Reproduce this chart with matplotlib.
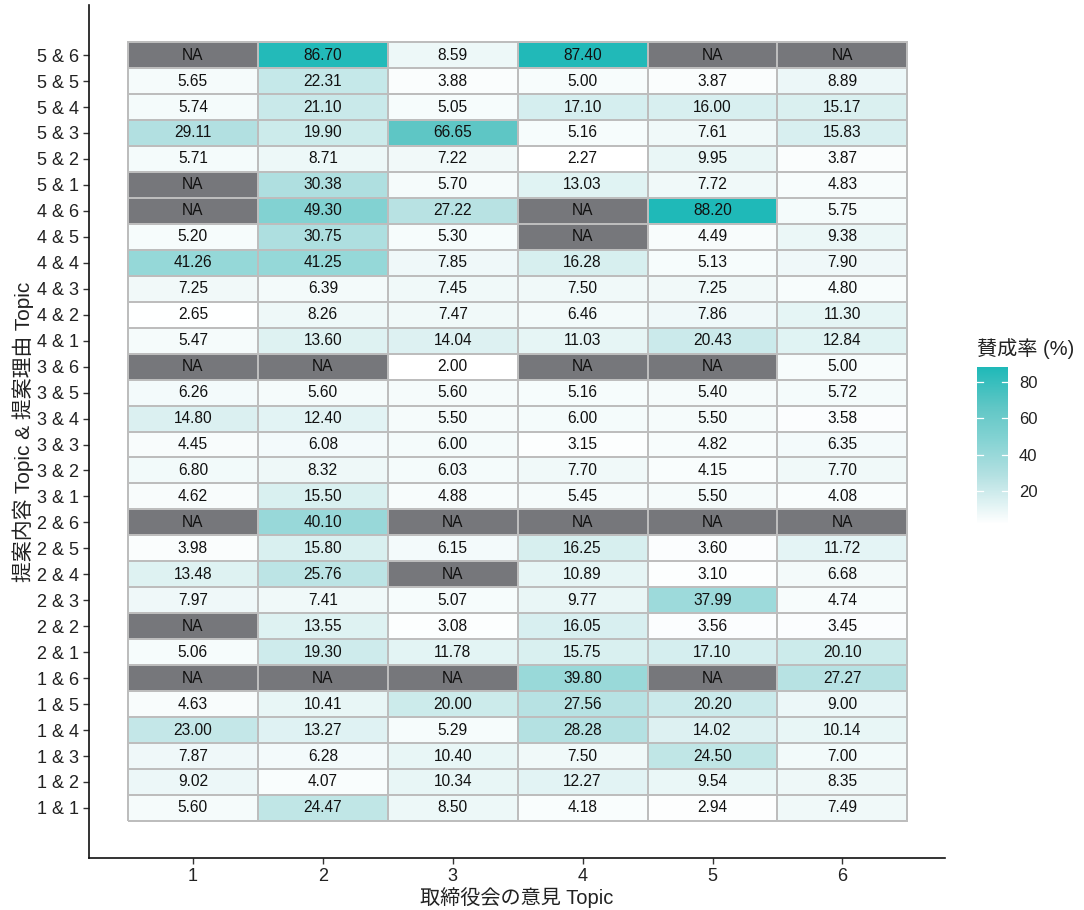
import numpy as np
import matplotlib
matplotlib.use("Agg")
import matplotlib.pyplot as plt
from matplotlib.colors import LinearSegmentedColormap, Normalize

plt.rcParams['font.family'] = ['Liberation Sans', 'Noto Sans CJK JP']

# Board-opinion topics (columns)
board_topics = [1, 2, 3, 4, 5, 6]

# Proposal-content & proposal-reason topics (rows, bottom to top)
row_labels = [f"{a} & {b}" for a in range(1, 6) for b in range(1, 7)]

NA = np.nan
# Approval rates (%) per row, listed bottom (1 & 1) to top (5 & 6)
approval = [
    [5.60, 24.47, 8.50, 4.18, 2.94, 7.49],     # 1 & 1
    [9.02, 4.07, 10.34, 12.27, 9.54, 8.35],    # 1 & 2
    [7.87, 6.28, 10.40, 7.50, 24.50, 7.00],    # 1 & 3
    [23.00, 13.27, 5.29, 28.28, 14.02, 10.14], # 1 & 4
    [4.63, 10.41, 20.00, 27.56, 20.20, 9.00],  # 1 & 5
    [NA, NA, NA, 39.80, NA, 27.27],            # 1 & 6
    [5.06, 19.30, 11.78, 15.75, 17.10, 20.10], # 2 & 1
    [NA, 13.55, 3.08, 16.05, 3.56, 3.45],      # 2 & 2
    [7.97, 7.41, 5.07, 9.77, 37.99, 4.74],     # 2 & 3
    [13.48, 25.76, NA, 10.89, 3.10, 6.68],     # 2 & 4
    [3.98, 15.80, 6.15, 16.25, 3.60, 11.72],   # 2 & 5
    [NA, 40.10, NA, NA, NA, NA],               # 2 & 6
    [4.62, 15.50, 4.88, 5.45, 5.50, 4.08],     # 3 & 1
    [6.80, 8.32, 6.03, 7.70, 4.15, 7.70],      # 3 & 2
    [4.45, 6.08, 6.00, 3.15, 4.82, 6.35],      # 3 & 3
    [14.80, 12.40, 5.50, 6.00, 5.50, 3.58],    # 3 & 4
    [6.26, 5.60, 5.60, 5.16, 5.40, 5.72],      # 3 & 5
    [NA, NA, 2.00, NA, NA, 5.00],              # 3 & 6
    [5.47, 13.60, 14.04, 11.03, 20.43, 12.84], # 4 & 1
    [2.65, 8.26, 7.47, 6.46, 7.86, 11.30],     # 4 & 2
    [7.25, 6.39, 7.45, 7.50, 7.25, 4.80],      # 4 & 3
    [41.26, 41.25, 7.85, 16.28, 5.13, 7.90],   # 4 & 4
    [5.20, 30.75, 5.30, NA, 4.49, 9.38],       # 4 & 5
    [NA, 49.30, 27.22, NA, 88.20, 5.75],       # 4 & 6
    [NA, 30.38, 5.70, 13.03, 7.72, 4.83],      # 5 & 1
    [5.71, 8.71, 7.22, 2.27, 9.95, 3.87],      # 5 & 2
    [29.11, 19.90, 66.65, 5.16, 7.61, 15.83],  # 5 & 3
    [5.74, 21.10, 5.05, 17.10, 16.00, 15.17],  # 5 & 4
    [5.65, 22.31, 3.88, 5.00, 3.87, 8.89],     # 5 & 5
    [NA, 86.70, 8.59, 87.40, NA, NA],          # 5 & 6
]

colorbar_ticks = [20, 40, 60, 80]

# White -> teal gradient with slightly muted mid-tones
cmap = LinearSegmentedColormap.from_list(
    "approval",
    [(0.0, "#FFFFFF"), (0.315, "#B2E0E1"), (0.549, "#82D2D2"),
     (0.75, "#5FC6C5"), (1.0, "#1FB9B8")])
cmap.set_bad("#76777B")

arr = np.array(approval, dtype=float)
data = np.ma.masked_invalid(arr)
nrows, ncols = data.shape
norm = Normalize(vmin=np.nanmin(arr), vmax=np.nanmax(arr))

fig = plt.figure(figsize=(10.84, 9.10), dpi=100)
ax = fig.add_axes([0.0821, 0.0571, 0.8718 - 0.0821, 0.9945 - 0.0571])

x_edges = np.arange(ncols + 1) + 0.5
y_edges = np.arange(nrows + 1) + 0.5
ax.pcolormesh(x_edges, y_edges, data, cmap=cmap, norm=norm,
              edgecolors="#BDBDBD", linewidth=1.3)

for i in range(nrows):
    for j in range(ncols):
        v = approval[i][j]
        label = "NA" if np.isnan(v) else f"{v:.2f}"
        ax.text(board_topics[j], i + 1, label, ha="center", va="center",
                fontsize=11.2, color="#111111")

ax.set_xlim(0.2, 6.79)
ax.set_ylim(-0.93, 31.93)
ax.set_xticks(board_topics)
ax.set_xticklabels([str(t) for t in board_topics])
ax.set_yticks(np.arange(1, nrows + 1))
ax.set_yticklabels(row_labels)
ax.tick_params(axis="both", labelsize=13, length=4, width=1, color="#333333",
               labelcolor="#222222", pad=3)
for side in ("top", "right"):
    ax.spines[side].set_visible(False)
for side in ("left", "bottom"):
    ax.spines[side].set_linewidth(1.2)
    ax.spines[side].set_color("#111111")

ax.set_xlabel("取締役会の意見 Topic", fontsize=14.5, color="#222222", labelpad=2)
ax.set_ylabel("提案内容 Topic & 提案理由 Topic", fontsize=15, color="#222222", labelpad=2)

# Colour bar legend
cax = fig.add_axes([977 / 1084, 1 - 524 / 910, 31 / 1084, 157 / 910])
sm = plt.cm.ScalarMappable(cmap=cmap, norm=norm)
cb = fig.colorbar(sm, cax=cax, ticks=colorbar_ticks)
cb.outline.set_visible(False)
cax.tick_params(labelsize=12, length=0, pad=8, labelcolor="#222222")
for t in colorbar_ticks:
    cax.plot([0, 0.18], [t, t], color="white", lw=0.9, transform=cax.get_yaxis_transform())
    cax.plot([0.82, 1.0], [t, t], color="white", lw=0.9, transform=cax.get_yaxis_transform())
fig.text(977 / 1084, 1 - 349 / 910, "賛成率 (%)", fontsize=14.5, color="#222222",
         ha="left", va="center")

fig.savefig("out.png", dpi=100)
